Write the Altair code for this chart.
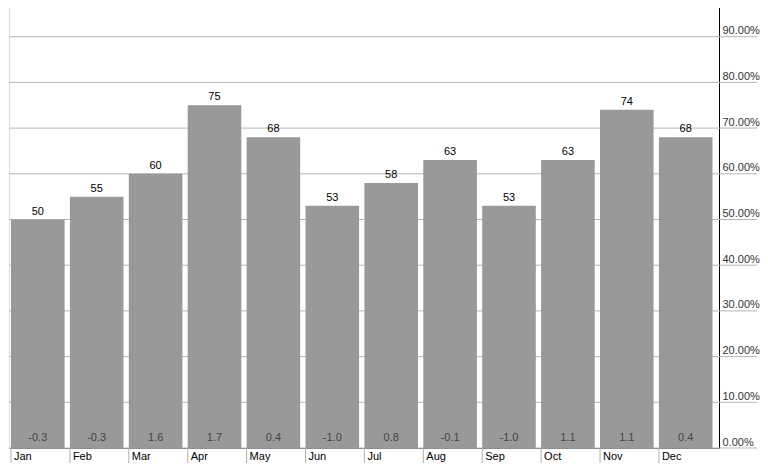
import altair as alt
import pandas as pd

months = ["Jan", "Feb", "Mar", "Apr", "May", "Jun", "Jul", "Aug", "Sep", "Oct", "Nov", "Dec"]
values = [50, 55, 60, 75, 68, 53, 58, 63, 53, 63, 74, 68]
changes = ["-0.3", "-0.3", "1.6", "1.7", "0.4", "-1.0", "0.8", "-0.1", "-1.0", "1.1", "1.1", "0.4"]
grid_ticks = [0.0, 0.1, 0.2, 0.3, 0.4, 0.5, 0.6, 0.7, 0.8, 0.9]

df = pd.DataFrame({
    "month": months,
    "pct": [v / 100 for v in values],
    "label": [str(v) for v in values],
    "change": changes,
})
grid_df = pd.DataFrame({"g": grid_ticks})

FONT = "Liberation Sans"
H = 448
ymax = H / 457

y_axis = alt.Axis(
    orient="right", values=grid_ticks, format=".2%", grid=False, ticks=False,
    domainColor="#000000", labelAlign="left", labelBaseline="bottom",
    labelPadding=3, labelOffset=-1, labelFontSize=11, labelFont=FONT,
    labelColor="#333333",
)
x_scale = alt.Scale(paddingInner=0.09, paddingOuter=0.072, align=0.235)
x_enc = alt.X(
    "month:N", sort=months, title=None, scale=x_scale,
    axis=alt.Axis(orient="bottom", labels=False, ticks=False, grid=False,
                  domainColor="#666666"),
)
y_scale = alt.Scale(domain=[0, ymax], nice=False)

grid = alt.Chart(grid_df).mark_rule(color="#b5b5b5", strokeWidth=1, clip=False).encode(
    y=alt.Y("g:Q", scale=y_scale, axis=y_axis, title=None),
    x=alt.value(0),
    x2=alt.value(748),
)

bars = alt.Chart(df).mark_bar(color="#999999").encode(
    x=x_enc,
    y=alt.Y("pct:Q", scale=y_scale, title=None, axis=y_axis),
)

ticks = alt.Chart(df).mark_rule(color="#b0b0b0", strokeWidth=1, clip=False).encode(
    x=alt.X("month:N", sort=months, bandPosition=0),
    y=alt.value(H),
    y2=alt.value(H + 15),
)

month_text = alt.Chart(df).mark_text(
    align="left", baseline="top", dx=3, fontSize=11, font=FONT, color="#000000", clip=False
).encode(
    x=alt.X("month:N", sort=months, bandPosition=0),
    y=alt.value(H + 3),
    text="month:N",
)

top_text = alt.Chart(df).mark_text(
    baseline="bottom", dy=-3, fontSize=11, font=FONT, color="#000000"
).encode(
    x=alt.X("month:N", sort=months),
    y=alt.Y("pct:Q", scale=y_scale),
    text="label:N",
)

bottom_text = alt.Chart(df).mark_text(
    baseline="middle", fontSize=11, font=FONT, color="#444444"
).encode(
    x=alt.X("month:N", sort=months),
    y=alt.value(H - 10),
    text="change:N",
)

chart = alt.layer(grid, bars, ticks, month_text, top_text, bottom_text).properties(
    width=710, height=H, padding={"top": -8, "left": 0, "right": 0, "bottom": 0}
).configure_view(strokeWidth=0).configure(background="white")

chart.save("out.html", embed_options={"renderer": "svg", "actions": False})
